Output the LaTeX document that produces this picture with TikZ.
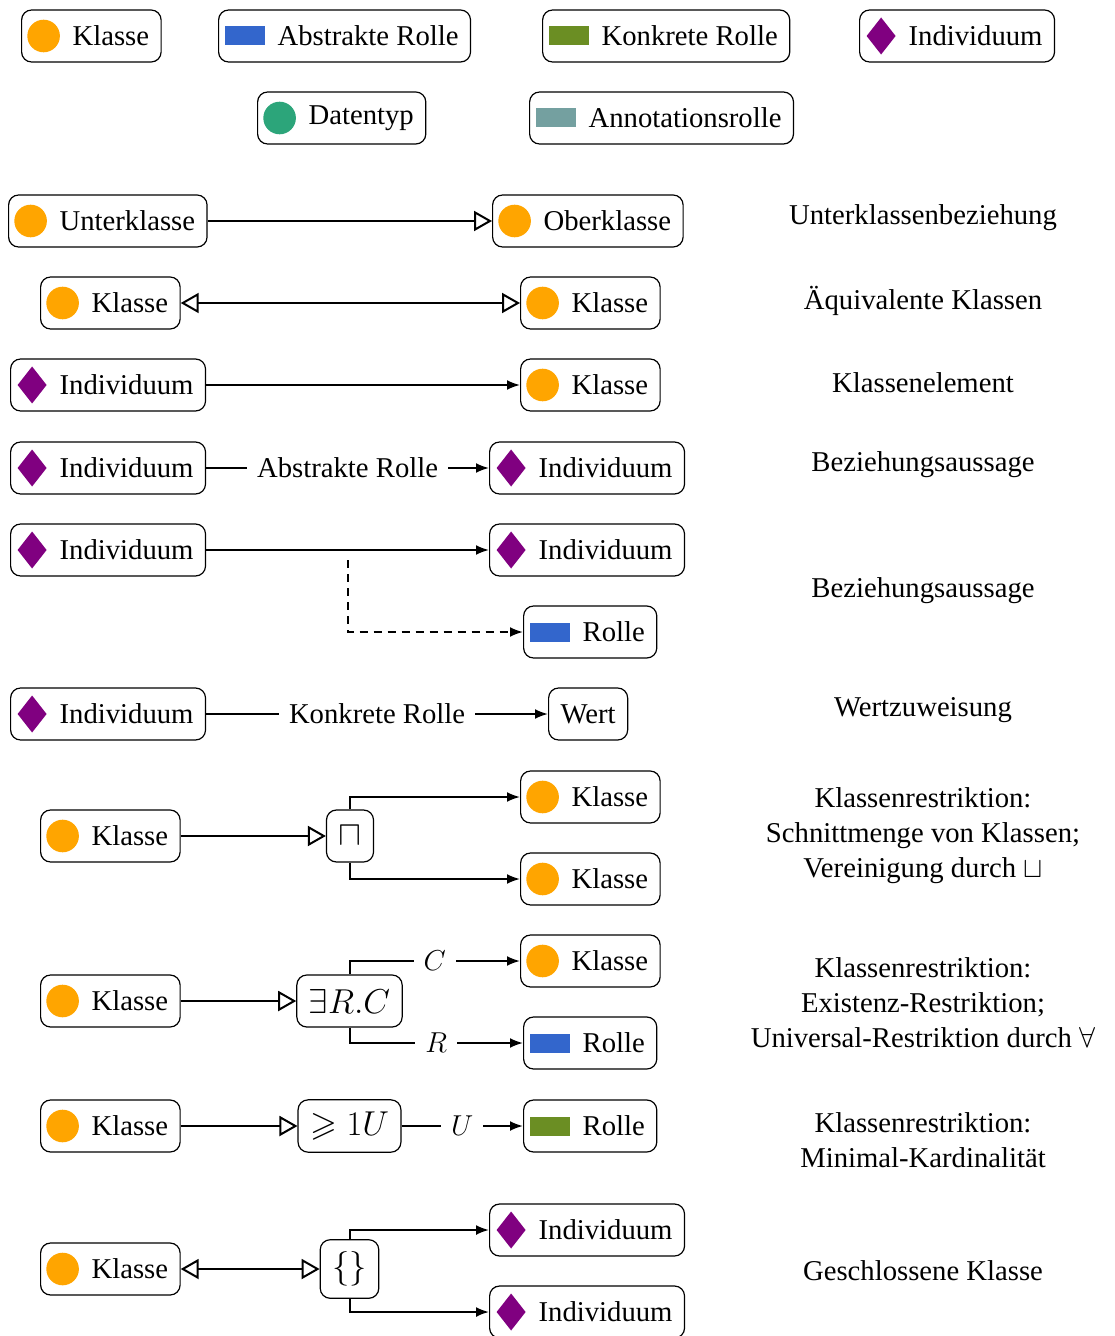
\documentclass[tikz,border=0pt]{standalone}
\usepackage{amssymb}
\usepackage{fontspec}
\setmainfont{Liberation Serif}
\usetikzlibrary{arrows.meta,calc}

\definecolor{klassecol}{HTML}{FFA500}
\definecolor{abstrcol}{HTML}{3366CC}
\definecolor{konkrcol}{HTML}{6B8E23}
\definecolor{indivcol}{HTML}{800080}
\definecolor{datacol}{HTML}{2CA57A}
\definecolor{annocol}{HTML}{74A0A0}

\begin{document}
\begin{tikzpicture}[x=0.5pt,y=-0.5pt,
  font=\fontsize{14.35}{17.5}\selectfont,
  box/.style={draw, line width=0.6pt, rounded corners=5pt, minimum height=26pt,
    inner xsep=6pt, inner ysep=6pt, anchor=west},
  roundicon/.style={box, execute at begin node={\hspace{19.5pt}},
    path picture={\fill[#1, sharp corners] ([xshift=11pt]path picture bounding box.west) circle (8.15pt);}},
  recticon/.style={box, execute at begin node={\hspace{23.5pt}},
    path picture={\fill[#1, sharp corners] ([xshift=3pt,yshift=-4.75pt]path picture bounding box.west) rectangle ++(20pt,9.5pt);}},
  diaicon/.style={box, execute at begin node={\hspace{18.5pt}},
    path picture={\fill[#1, sharp corners] ([xshift=3.5pt]path picture bounding box.west) -- ++(7.25pt,9.25pt) -- ++(7.25pt,-9.25pt) -- ++(-7.25pt,-9.25pt) -- cycle;}},
  klasse/.style={roundicon=klassecol},
  datentyp/.style={roundicon=datacol},
  abstrakt/.style={recticon=abstrcol},
  konkret/.style={recticon=konkrcol},
  annot/.style={recticon=annocol},
  indiv/.style={diaicon=indivcol},
  opbox/.style={box, anchor=center, font=\fontsize{17.25}{20}\selectfont},
  desc/.style={align=center, anchor=center},
  lbl/.style={fill=white, inner xsep=5pt, inner ysep=1pt},
  conn/.style={line width=1pt},
  toarr/.style={conn, -{Latex[length=6.5pt,width=5pt]}},
  subarr/.style={conn, -{Triangle[open,length=9pt,width=10pt]}},
  eqarr/.style={conn, {Triangle[open,length=9pt,width=10pt]}-{Triangle[open,length=9pt,width=10pt]}},
]
\useasboundingbox (0,0) rectangle (1114,1336);

% legend
\node[klasse]   (l1) at (21,36)   {Klasse};
\node[abstrakt] (l2) at (218,36)  {Abstrakte Rolle};
\node[konkret]  (l3) at (542,36)  {Konkrete Rolle};
\node[indiv]    (l4) at (859,36)  {Individuum};
\node[datentyp] (l5) at (257,118) {Datentyp};
\node[annot]    (l6) at (529,118) {Annotationsrolle};

% subclass relation
\node[klasse] (a1) at (8,221)   {Unterklasse};
\node[klasse] (a2) at (492,221) {Oberklasse};
\draw[subarr] (a1) -- (a2);
\node[desc] (ad) at (923,218) {Unterklassenbeziehung};

% equivalent classes
\node[klasse] (b1) at (40,303)  {Klasse};
\node[klasse] (b2) at (520,303) {Klasse};
\draw[eqarr] (b1) -- (b2);
\node[desc] (bd) at (923,301) {Äquivalente Klassen};

% class membership
\node[indiv]  (c1) at (10,385)  {Individuum};
\node[klasse] (c2) at (520,385) {Klasse};
\draw[toarr] (c1) -- (c2);
\node[desc] (cd) at (923,383) {Klassenelement};

% object property assertion
\node[indiv] (d1) at (10,468)  {Individuum};
\node[indiv] (d2) at (489,468) {Individuum};
\draw[toarr] (d1) -- node[lbl] {Abstrakte Rolle} (d2);
\node[desc] (dd) at (923,465) {Beziehungsaussage};

% object property assertion, reified
\node[indiv]    (e1) at (10,550)  {Individuum};
\node[indiv]    (e2) at (489,550) {Individuum};
\node[abstrakt] (e3) at (523,632) {Rolle};
\draw[toarr] (e1) -- (e2);
\coordinate (e4) at ($(e1.east)!0.5!(e2.west)+(0,10)$);
\draw[toarr, dash pattern=on 4pt off 3pt] (e4) |- (e3);
\node[desc] (ed) at (923,591) {Beziehungsaussage};

% data property assertion
\node[indiv] (f1) at (10,714)  {Individuum};
\node[box]   (f2) at (548,714) {Wert};
\draw[toarr] (f1) -- node[lbl] {Konkrete Rolle} (f2);
\node[desc] (fd) at (923,710) {Wertzuweisung};

% intersection
\node[klasse] (g1) at (40,836)  {Klasse};
\node[opbox]  (g2) at (350,836) {$\sqcap$};
\node[klasse] (g3) at (520,797) {Klasse};
\node[klasse] (g4) at (520,879) {Klasse};
\draw[subarr] (g1) -- (g2);
\draw[toarr] (g2.north) |- (g3);
\draw[toarr] (g2.south) |- (g4);
\node[desc] (gd) at (923,836) {Klassenrestriktion:\\Schnittmenge von Klassen;\\Vereinigung durch $\sqcup$};

% existential restriction
\node[klasse]   (h1) at (40,1001)    {Klasse};
\node[opbox]    (h2) at (349.5,1001) {$\exists R.C$};
\node[klasse]   (h3) at (520,961)    {Klasse};
\node[abstrakt] (h4) at (523,1043)   {Rolle};
\draw[subarr] (h1) -- (h2);
\draw[toarr] (h2.north) |- node[lbl, pos=0.75] {$C$} (h3);
\draw[toarr] (h2.south) |- node[lbl, pos=0.75] {$R$} (h4);
\node[desc] (hd) at (923,1003) {Klassenrestriktion:\\Existenz-Restriktion;\\Universal-Restriktion durch $\forall$};

% minimum cardinality
\node[klasse]  (i1) at (40,1126)    {Klasse};
\node[opbox]   (i2) at (349.5,1126) {$\geqslant 1 U$};
\node[konkret] (i3) at (523,1126)   {Rolle};
\draw[subarr] (i1) -- (i2);
\draw[toarr] (i2) -- node[lbl] {$U$} (i3);
\node[desc] (id) at (923,1140) {Klassenrestriktion:\\Minimal-Kardinalität};

% enumeration
\node[klasse] (j1) at (40,1269)    {Klasse};
\node[opbox]  (j2) at (349.5,1269) {$\{\}$};
\node[indiv]  (j3) at (489,1230)   {Individuum};
\node[indiv]  (j4) at (489,1312)   {Individuum};
\draw[eqarr] (j1) -- (j2);
\draw[toarr] (j2.north) |- (j3);
\draw[toarr] (j2.south) |- (j4);
\node[desc] (jd) at (923,1271) {Geschlossene Klasse};
\end{tikzpicture}
\end{document}
